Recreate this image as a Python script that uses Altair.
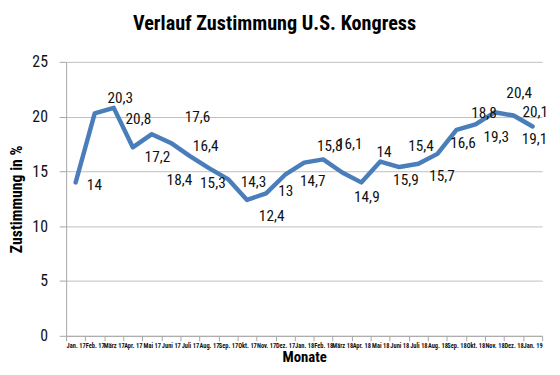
import altair as alt
import pandas as pd

months = ["Jan. 17", "Feb. 17", "März 17", "Apr. 17", "Mai 17", "Juni 17", "Juli 17",
          "Aug. 17", "Sep. 17", "Okt. 17", "Nov. 17", "Dez. 17", "Jan. 18", "Feb. 18",
          "März 18", "Apr. 18", "Mai 18", "Juni 18", "Juli 18", "Aug. 18", "Sep. 18",
          "Okt. 18", "Nov. 18", "Dez. 18", "Jan. 19"]
values = [14, 20.3, 20.8, 17.2, 18.4, 17.6, 16.4, 15.3, 14.3, 12.4, 13, 14.7, 15.8,
          16.1, 14.9, 14, 15.9, 15.4, 15.7, 16.6, 18.8, 19.3, 20.4, 20.1, 19.1]
labels = ["14", "20,3", "20,8", "17,2", "18,4", "17,6", "16,4", "15,3", "14,3", "12,4",
          "13", "14,7", "15,8", "16,1", "14,9", "14", "15,9", "15,4", "15,7", "16,6",
          "18,8", "19,3", "20,4", "20,1", "19,1"]

# label offsets in pixels (style only)
label_dx = [19, 26, 25, 25, 28, 27, 16, 4, 26, 25, 20, 28, 26, 27, 25, 23, 26, 22, 24,
            26, 28, 21, 25, 22, 2]
label_dy = [3, -15, 11, 10, 47, -26, -10, 15, 3, 16, -2, 6, -17, -16, 25, -31, 19, -21,
            12, -11, -17, 13, -19, -4, 13]

df = pd.DataFrame({"Monat": months, "Zustimmung": values, "Label": labels,
                   "i": list(range(len(months)))})

FONT = "Roboto Condensed"

x_enc = alt.X("Monat:N", sort=months,
              scale=alt.Scale(paddingInner=0, paddingOuter=0),
              axis=alt.Axis(title="Monate", labelAngle=0, tickBand="extent",
                            labelOverlap=False, labelFont=FONT, labelFontSize=6.5,
                            labelFontWeight="bold", labelColor="#111111",
                            labelPadding=2, tickSize=5, tickColor="#a6a6a6",
                            domainColor="#a6a6a6", titleFont=FONT, titleFontSize=15,
                            titleFontWeight="bold", titleColor="#000000",
                            titleBaseline="alphabetic", titleY=26, grid=False))
y_enc = alt.Y("Zustimmung:Q", scale=alt.Scale(domain=[0, 25], nice=False),
              axis=alt.Axis(values=[0, 5, 10, 15, 20, 25], title="Zustimmung in %",
                            labelFont=FONT, labelFontSize=16, labelColor="#111111",
                            labelPadding=12, tickSize=7, tickColor="#a6a6a6",
                            domainColor="#a6a6a6", gridColor="#bfbfbf",
                            titleFont=FONT, titleFontSize=16, titleFontWeight="bold",
                            titleColor="#000000", titlePadding=7))

line = alt.Chart(df).mark_line(color="#4a7ebb", strokeWidth=4.5,
                               strokeJoin="round", strokeCap="round").encode(x=x_enc, y=y_enc)

text_layers = []
for i in range(len(months)):
    text_layers.append(
        alt.Chart(df).transform_filter(alt.datum.i == i).mark_text(
            dx=label_dx[i], dy=label_dy[i], font=FONT, fontSize=15.5,
            color="#111111", align="center", baseline="middle"
        ).encode(x=alt.X("Monat:N", sort=months), y=alt.Y("Zustimmung:Q"), text="Label:N")
    )

chart = alt.layer(line, *text_layers).properties(
    width=483, height=278,
    title=alt.TitleParams("Verlauf Zustimmung U.S. Kongress", font=FONT, fontSize=20.5,
                          fontWeight="bold", color="#000000", anchor="middle",
                          dx=-30, offset=20),
    padding={"left": 59, "top": 52, "right": 10, "bottom": 29},
    autosize=alt.AutoSizeParams(type="none"),
).configure_view(stroke=None)

chart.save("out.html", embed_options={"renderer": "svg", "actions": False})
